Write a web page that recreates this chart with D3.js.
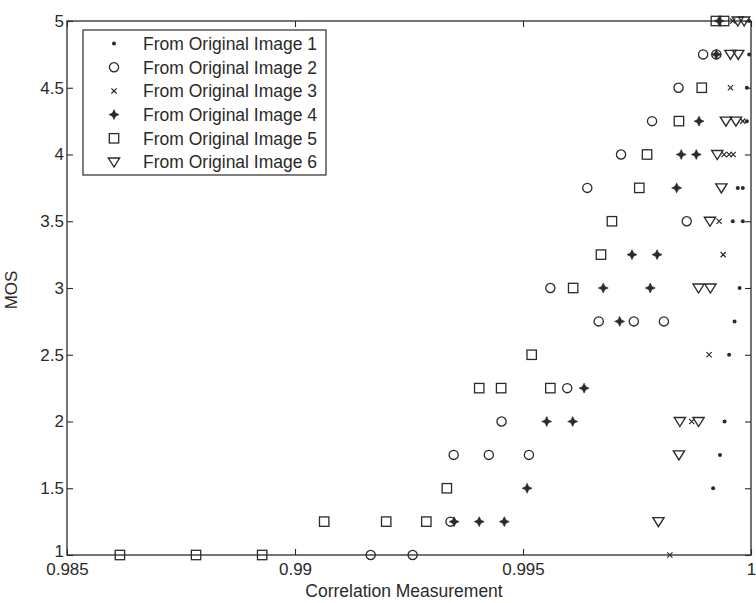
<!DOCTYPE html>
<html>
<head>
<meta charset="utf-8">
<script src="https://cdn.jsdelivr.net/npm/d3@7"></script>
<style>
  html, body { margin: 0; padding: 0; background: #fff; }
  svg text { font-family: "Liberation Sans", Arial, Helvetica, sans-serif; fill: #2a2a2a; }
</style>
</head>
<body>
<svg id="chart" width="756" height="603"></svg>
<script>
// ---------------- data ----------------
const seriesNames = ["From Original Image 1", "From Original Image 2", "From Original Image 3",
                     "From Original Image 4", "From Original Image 5", "From Original Image 6"];
const xTicks = [0.985, 0.99, 0.995, 1];
const yTicks = [1, 1.5, 2, 2.5, 3, 3.5, 4, 4.5, 5];

const corr1 = [0.99996, 0.99996, 0.99991, 0.99991, 0.99971, 0.99982, 0.99960, 0.99982, 0.99975, 0.99964, 0.99952, 0.99942, 0.99932, 0.99917];
const mos1  = [5, 4.75, 4.5, 4.25, 3.75, 3.75, 3.5, 3.5, 3, 2.75, 2.5, 2, 1.75, 1.5];

const corr2 = [0.99895, 0.99924, 0.99841, 0.99783, 0.99715, 0.99641, 0.99859, 0.99560, 0.99666, 0.99743, 0.99809, 0.99597, 0.99453, 0.99348, 0.99425, 0.99513, 0.99341, 0.99166, 0.99258];
const mos2  = [4.75, 4.75, 4.5, 4.25, 4, 3.75, 3.5, 3, 2.75, 2.75, 2.75, 2.25, 2, 1.75, 1.75, 1.75, 1.25, 1, 1];

const corr3 = [0.99960, 0.99955, 0.99982, 0.99941, 0.99952, 0.99961, 0.99930, 0.99939, 0.99908, 0.99870, 0.99822];
const mos3  = [5, 4.5, 4.25, 4, 4, 4, 3.5, 3.25, 2.5, 2, 1];

const corr4 = [0.99930, 0.99924, 0.99886, 0.99847, 0.99880, 0.99837, 0.99739, 0.99794, 0.99676, 0.99779, 0.99712, 0.99634, 0.99552, 0.99609, 0.99509, 0.99349, 0.99404, 0.99459];
const mos4  = [5, 4.75, 4.25, 4, 4, 3.75, 3.25, 3.25, 3, 3, 2.75, 2.25, 2, 2, 1.5, 1.25, 1.25, 1.25];

const corr5 = [0.99923, 0.99941, 0.99892, 0.99842, 0.99772, 0.99755, 0.99695, 0.99671, 0.99610, 0.99519, 0.99404, 0.99452, 0.99560, 0.99333, 0.99064, 0.99200, 0.99288, 0.98616, 0.98783, 0.98928];
const mos5  = [5, 5, 4.5, 4.25, 4, 3.75, 3.5, 3.25, 3, 2.5, 2.25, 2.25, 2.25, 1.5, 1.25, 1.25, 1.25, 1, 1, 1];

const corr6 = [0.99971, 0.99985, 0.99955, 0.99972, 0.99945, 0.99967, 0.99926, 0.99935, 0.99910, 0.99885, 0.99911, 0.99844, 0.99885, 0.99842, 0.99797];
const mos6  = [5, 5, 4.75, 4.75, 4.25, 4.25, 4, 3.75, 3.5, 3, 3, 2, 2, 1.75, 1.25];

const seriesX = [corr1, corr2, corr3, corr4, corr5, corr6];
const seriesY = [mos1, mos2, mos3, mos4, mos5, mos6];

// ---------------- layout ----------------
const svg = d3.select("#chart");
const L = 67, R = 751, T = 21, B = 555;
const ink = "#2a2a2a";

const x = d3.scaleLinear().domain([0.985, 1]).range([L, R]);
const y = d3.scaleLinear().domain([1, 5]).range([B, T]);

// frame
svg.append("rect").attr("x", L).attr("y", T).attr("width", R - L).attr("height", B - T)
  .attr("fill", "none").attr("stroke", ink).attr("stroke-width", 1.3);

function styleAxis(g, showText) {
  g.select(".domain").remove();
  g.selectAll(".tick line").attr("stroke", ink).attr("stroke-width", 1.1);
  g.selectAll(".tick text").attr("font-size", 17).style("fill", ink);
  if (!showText) g.selectAll(".tick text").remove();
}

svg.append("g").attr("transform", `translate(0,${B})`)
  .call(d3.axisBottom(x).tickValues(xTicks).tickSize(-6).tickPadding(8).tickFormat(d => String(d)))
  .call(g => styleAxis(g, true));
svg.append("g").attr("transform", `translate(0,${T})`)
  .call(d3.axisTop(x).tickValues(xTicks).tickSize(-6))
  .call(g => styleAxis(g, false));
svg.append("g").attr("transform", `translate(${L},0)`)
  .call(d3.axisLeft(y).tickValues(yTicks).tickSize(-6).tickPadding(3).tickFormat(d => String(d)))
  .call(g => styleAxis(g, true))
  .call(g => g.selectAll(".tick text").filter(d => d === 1).attr("dy", "0.1em"));
svg.append("g").attr("transform", `translate(${R},0)`)
  .call(d3.axisRight(y).tickValues(yTicks).tickSize(-6))
  .call(g => styleAxis(g, false));

// axis labels
svg.append("text").attr("x", 404).attr("y", 597).attr("text-anchor", "middle")
  .attr("font-size", 17.5).text("Correlation Measurement");
svg.append("text").attr("transform", "translate(17,290) rotate(-90)").attr("text-anchor", "middle")
  .attr("font-size", 17).text("MOS");

// ---------------- markers ----------------
const starPath = "M0,-5 L1.6,-1.6 L5,0 L1.6,1.6 L0,5 L-1.6,1.6 L-5,0 L-1.6,-1.6 Z";
const triPath = "M-5.6,-4 L5.6,-4 L0,5 Z";
const crossPath = "M-2.6,-2.6 L2.6,2.6 M-2.6,2.6 L2.6,-2.6";

function drawMarker(g, i) {
  switch (i) {
    case 0: g.append("circle").attr("r", 2).attr("fill", ink); break;
    case 1: g.append("circle").attr("r", 4.6).attr("fill", "none").attr("stroke", ink).attr("stroke-width", 1.3); break;
    case 2: g.append("path").attr("d", crossPath).attr("fill", "none").attr("stroke", ink).attr("stroke-width", 1.2); break;
    case 3: g.append("path").attr("d", starPath).attr("fill", ink).attr("stroke", ink).attr("stroke-width", 0.6); break;
    case 4: g.append("rect").attr("x", -4.7).attr("y", -4.7).attr("width", 9.4).attr("height", 9.4)
              .attr("fill", "none").attr("stroke", ink).attr("stroke-width", 1.3); break;
    case 5: g.append("path").attr("d", triPath).attr("fill", "none").attr("stroke", ink).attr("stroke-width", 1.4)
              .attr("stroke-linejoin", "miter"); break;
  }
}

const marks = svg.append("g");
seriesX.forEach((xs, i) => {
  const pts = xs.map((v, j) => [v, seriesY[i][j]]);
  marks.append("g").selectAll("g").data(pts).join("g")
    .attr("transform", d => `translate(${x(d[0])},${y(d[1])})`)
    .each(function () { drawMarker(d3.select(this), i); });
});

// ---------------- legend ----------------
const lg = svg.append("g");
lg.append("rect").attr("x", 83).attr("y", 30).attr("width", 243).attr("height", 145)
  .attr("fill", "#fff").attr("stroke", ink).attr("stroke-width", 1.2);
seriesNames.forEach((name, i) => {
  const yy = 43.5 + i * 23.7;
  const m = lg.append("g").attr("transform", `translate(114,${yy})`);
  drawMarker(m, i);
  lg.append("text").attr("x", 143).attr("y", yy).attr("dy", "0.36em")
    .attr("font-size", 17.5).text(name);
});
</script>
</body>
</html>
